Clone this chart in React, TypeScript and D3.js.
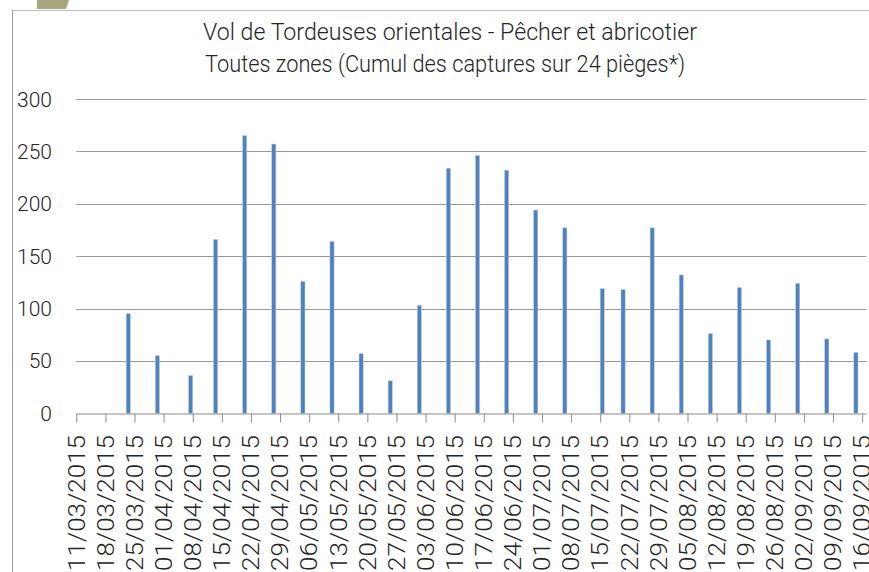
import React, { useEffect, useRef } from "react";
import * as d3 from "d3";

const titleLines = [
  "Vol de Tordeuses orientales - Pêcher et abricotier",
  "Toutes zones (Cumul des captures sur 24 pièges*)",
];

const tickDates = [
  "11/03/2015", "18/03/2015", "25/03/2015", "01/04/2015", "08/04/2015",
  "15/04/2015", "22/04/2015", "29/04/2015", "06/05/2015", "13/05/2015",
  "20/05/2015", "27/05/2015", "03/06/2015", "10/06/2015", "17/06/2015",
  "24/06/2015", "01/07/2015", "08/07/2015", "15/07/2015", "22/07/2015",
  "29/07/2015", "05/08/2015", "12/08/2015", "19/08/2015", "26/08/2015",
  "02/09/2015", "09/09/2015", "16/09/2015",
];

const captureDates = [
  "23/03/2015", "30/03/2015", "07/04/2015", "13/04/2015", "20/04/2015",
  "27/04/2015", "04/05/2015", "11/05/2015", "18/05/2015", "25/05/2015",
  "01/06/2015", "08/06/2015", "15/06/2015", "22/06/2015", "29/06/2015",
  "06/07/2015", "15/07/2015", "20/07/2015", "27/07/2015", "03/08/2015",
  "10/08/2015", "17/08/2015", "24/08/2015", "31/08/2015", "07/09/2015",
  "14/09/2015",
];

const captureValues = [
  95, 55, 36, 166, 265, 257, 126, 164, 57, 31, 103, 234, 246, 232, 194, 177,
  119, 118, 177, 132, 76, 120, 70, 124, 71, 58,
];

const yTicks = [0, 50, 100, 150, 200, 250, 300];

const FONT = "Roboto, 'Liberation Sans', Arial, sans-serif";

function App() {
  const svgRef = useRef<SVGSVGElement>(null);

  useEffect(() => {
    const svg = d3.select(svgRef.current);
    svg.selectAll("*").remove();

    const parse = d3.utcParse("%d/%m/%Y");
    const first = parse(tickDates[0]) as Date;
    const last = parse(tickDates[tickDates.length - 1]) as Date;

    const x = d3
      .scaleUtc()
      .domain([first, d3.utcDay.offset(last, 1)])
      .range([76.3, 866.3]);
    const y = d3.scaleLinear().domain([0, 300]).range([413.3, 99]);

    // frame + decoration
    svg.append("rect").attr("width", 869).attr("height", 572).attr("fill", "#fff");
    svg
      .append("polygon")
      .attr("points", "37,0 69,0 66,9 37,9")
      .attr("fill", "#a8a67f");
    svg
      .append("line")
      .attr("x1", 12).attr("x2", 869).attr("y1", 10.5).attr("y2", 10.5)
      .attr("stroke", "#bdbdbd");
    svg
      .append("line")
      .attr("x1", 12.5).attr("x2", 12.5).attr("y1", 10).attr("y2", 572)
      .attr("stroke", "#9a9a9a");

    // title
    svg
      .selectAll("text.title")
      .data(titleLines)
      .enter()
      .append("text")
      .attr("class", "title")
      .attr("x", (d, i) => (i === 0 ? 450 : 445))
      .attr("y", (d, i) => (i === 0 ? 40 : 71.5))
      .attr("text-anchor", "middle")
      .attr("font-family", FONT)
      .attr("font-weight", 300)
      .attr("font-size", 23.5)
      .attr("fill", "#262626")
      .attr("textLength", (d, i) => (i === 0 ? 494 : 480))
      .attr("lengthAdjust", "spacingAndGlyphs")
      .text((d) => d);

    // gridlines
    svg
      .selectAll("line.grid")
      .data(yTicks.filter((t) => t > 0))
      .enter()
      .append("line")
      .attr("x1", x.range()[0])
      .attr("x2", x.range()[1])
      .attr("y1", (d) => Math.round(y(d)) + 0.5)
      .attr("y2", (d) => Math.round(y(d)) + 0.5)
      .attr("stroke", "#999");

    // y labels
    svg
      .selectAll("text.ylab")
      .data(yTicks)
      .enter()
      .append("text")
      .attr("x", 52)
      .attr("y", (d) => y(d))
      .attr("dy", "0.36em")
      .attr("text-anchor", "end")
      .attr("font-family", FONT)
      .attr("font-weight", 300)
      .attr("font-size", 21)
      .attr("fill", "#262626")
      .text((d) => d);

    // bars
    svg
      .selectAll("rect.bar")
      .data(captureDates.map((d, i) => ({ date: parse(d) as Date, value: captureValues[i] })))
      .enter()
      .append("rect")
      .attr("x", (d) => x(d.date))
      .attr("width", (d) => x(d3.utcDay.offset(d.date, 1)) - x(d.date))
      .attr("y", (d) => y(d.value))
      .attr("height", (d) => y(0) - y(d.value))
      .attr("fill", "#4f81bd")
      .attr("stroke", "#b9cde6")
      .attr("stroke-width", 0.5);

    // x axis
    const ticks = tickDates.map((d) => parse(d) as Date);
    const axis = svg
      .append("g")
      .attr("transform", `translate(0, ${Math.round(y(0)) + 0.5})`)
      .call(
        d3
          .axisBottom(x)
          .tickValues(ticks)
          .tickSize(9)
          .tickSizeOuter(0)
          .tickFormat(() => "")
      );
    axis.select(".domain").attr("stroke", "#8c8c8c");
    axis.selectAll(".tick line").attr("stroke", "#8c8c8c");

    svg
      .selectAll("text.xlab")
      .data(tickDates)
      .enter()
      .append("text")
      .attr("transform", (d) => `translate(${x(parse(d) as Date)}, 435) rotate(-90)`)
      .attr("dy", "0.36em")
      .attr("text-anchor", "end")
      .attr("font-family", FONT)
      .attr("font-weight", 300)
      .attr("font-size", 23)
      .attr("fill", "#262626")
      .attr("textLength", 136)
      .attr("lengthAdjust", "spacingAndGlyphs")
      .text((d) => d);
  }, []);

  return (
    <svg
      ref={svgRef}
      width={869}
      height={572}
      style={{ position: "absolute", left: 0, top: 0 }}
    ></svg>
  );
}

export default App;
